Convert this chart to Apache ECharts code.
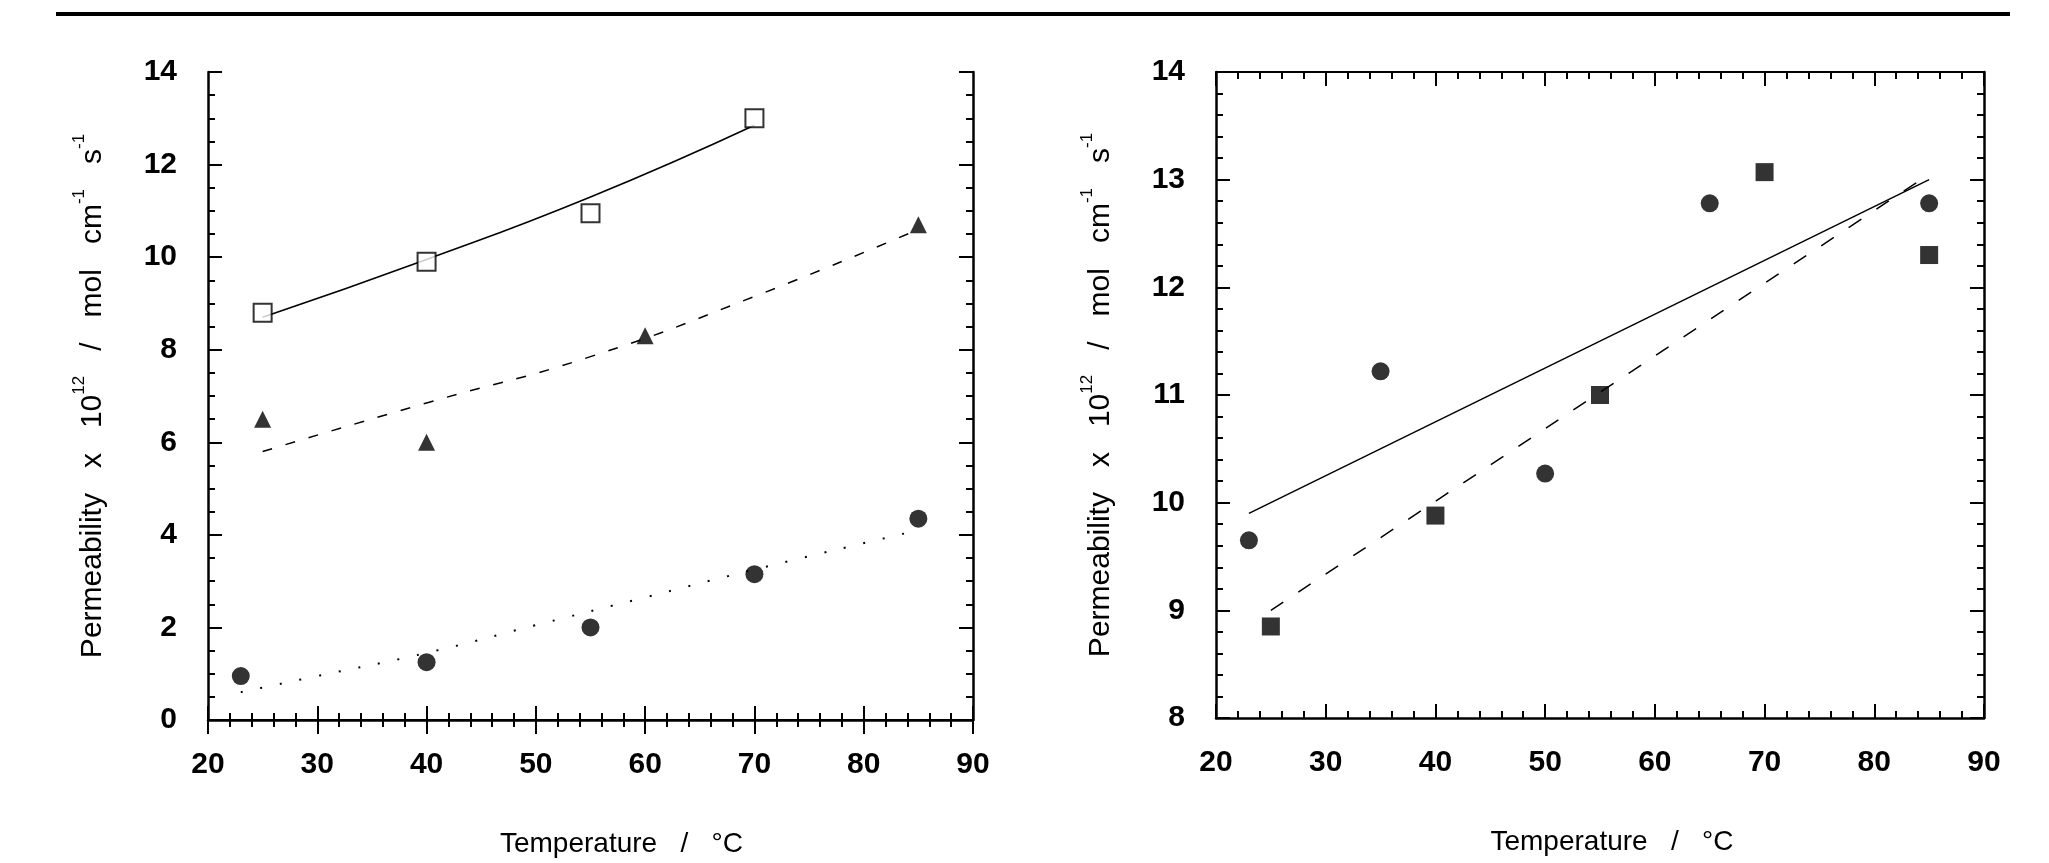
<!DOCTYPE html>
<html>
<head>
<meta charset="utf-8">
<script src="https://cdn.jsdelivr.net/npm/echarts@6/dist/echarts.min.js"></script>
<style>
  html, body { margin: 0; padding: 0; background: #fff; }
  #main { width: 2049px; height: 863px; }
</style>
</head>
<body>
<div id="main"></div>
<script>
// left panel: measured points
var leftSquareT = [25, 40, 55, 70];
var leftSquareP = [8.8, 9.9, 10.95, 13.0];
var leftTriT = [25, 40, 60, 85];
var leftTriP = [6.5, 6.0, 8.3, 10.7];
var leftCircT = [23, 40, 55, 70, 85];
var leftCircP = [0.95, 1.25, 2.0, 3.15, 4.35];
// left panel: fitted curves
var leftSquareFitT = [25, 40, 55, 70];
var leftSquareFitP = [8.7, 9.95, 11.3, 12.85];
var leftTriFitT = [25, 40, 55, 70, 85];
var leftTriFitP = [5.8, 6.85, 7.85, 9.15, 10.6];
var leftCircFitT = [23, 30, 40, 50, 60, 70, 85];
var leftCircFitP = [0.6, 0.95, 1.45, 2.05, 2.65, 3.25, 4.1];

// right panel
var rightCircT = [23, 35, 50, 65, 85];
var rightCircP = [9.65, 11.22, 10.27, 12.78, 12.78];
var rightSqT = [25, 40, 55, 70, 85];
var rightSqP = [8.85, 9.88, 11.0, 13.07, 12.3];
var rightCircFitT = [23, 85];
var rightCircFitP = [9.9, 13.0];
var rightSqFitT = [25, 85];
var rightSqFitP = [9.0, 13.05];

var yName = 'Permeability   x   10{sup|12}   /   mol   cm{sup|-1}   s{sup|-1}';
var xName = 'Temperature   /   \u00B0C';

var FONT = 'Liberation Sans';

function pairs(xs, ys) {
    return xs.map(function (x, i) { return [x, ys[i]]; });
}

var chartDom = document.getElementById('main');
var myChart = echarts.init(chartDom, null, { renderer: 'canvas' });

function xAxisPair(gridIndex, titleShift) {
    return [
        {
            type: 'value', gridIndex: gridIndex, position: 'bottom',
            min: 20, max: 90, interval: 10,
            name: xName, nameLocation: 'middle', nameGap: 110,
            nameTextStyle: { fontFamily: FONT, fontSize: 28, color: '#000', padding: [0, 0, 0, titleShift] },
            axisLine: { lineStyle: { color: '#000', width: 2.5 } },
            axisTick: { inside: true, length: 14, lineStyle: { color: '#000', width: 2 } },
            minorTick: { show: true, splitNumber: 5, length: 7, lineStyle: { color: '#000', width: 2 } },
            axisLabel: { margin: 30, fontFamily: FONT, fontSize: 30, fontWeight: 'bold', color: '#000' },
            splitLine: { show: false }
        },
        {
            type: 'value', gridIndex: gridIndex, position: 'top',
            min: 20, max: 90, interval: 10,
            axisLine: { lineStyle: { color: '#000', width: 2 } },
            axisTick: { inside: true, length: 14, lineStyle: { color: '#000', width: 2 } },
            minorTick: { show: true, splitNumber: 5, length: 7, lineStyle: { color: '#000', width: 2 } },
            axisLabel: { show: false },
            splitLine: { show: false }
        }
    ];
}

function yAxisPair(gridIndex, min, max, interval, minorSplit) {
    return [
        {
            type: 'value', gridIndex: gridIndex, position: 'left',
            min: min, max: max, interval: interval,
            name: yName, nameLocation: 'middle', nameGap: 93, nameRotate: 90,
            nameTextStyle: {
                fontFamily: FONT, fontSize: 30, color: '#000', lineHeight: 44,
                rich: { sup: { fontFamily: FONT, fontSize: 17, color: '#000', verticalAlign: 'top' } }
            },
            axisLine: { lineStyle: { color: '#000', width: 2.5 } },
            axisTick: { inside: true, length: 14, lineStyle: { color: '#000', width: 2 } },
            minorTick: { show: true, splitNumber: minorSplit, length: 7, lineStyle: { color: '#000', width: 2 } },
            axisLabel: { margin: 31, fontFamily: FONT, fontSize: 30, fontWeight: 'bold', color: '#000' },
            splitLine: { show: false }
        },
        {
            type: 'value', gridIndex: gridIndex, position: 'right',
            min: min, max: max, interval: interval,
            axisLine: { lineStyle: { color: '#000', width: 2.5 } },
            axisTick: { inside: true, length: 14, lineStyle: { color: '#000', width: 2 } },
            minorTick: { show: true, splitNumber: minorSplit, length: 7, lineStyle: { color: '#000', width: 2 } },
            axisLabel: { show: false },
            splitLine: { show: false }
        }
    ];
}

function fitLine(xi, yi, xs, ys, type, width) {
    return {
        type: 'line', xAxisIndex: xi, yAxisIndex: yi,
        data: pairs(xs, ys), smooth: true, symbol: 'none', silent: true,
        lineStyle: { color: '#000', width: width, type: type }, z: 2
    };
}

function points(xi, yi, xs, ys, symbol, size, filled) {
    return {
        type: 'scatter', xAxisIndex: xi, yAxisIndex: yi,
        data: pairs(xs, ys), symbol: symbol, symbolSize: size,
        itemStyle: filled ? { color: '#000' } : { color: '#fff', borderColor: '#000', borderWidth: 2 },
        z: 3
    };
}

var xAxes = xAxisPair(0, 62).concat(xAxisPair(1, 24));
var yAxes = yAxisPair(0, 0, 14, 2, 4).concat(yAxisPair(1, 8, 14, 1, 5));

option = {
    backgroundColor: '#fff',
    animation: false,
    grid: [
        { left: 208, top: 72, width: 765, height: 650 },
        { left: 1216, top: 72, width: 768, height: 646 }
    ],
    xAxis: xAxes,
    yAxis: yAxes,
    graphic: [
        {
            type: 'line', shape: { x1: 56, y1: 14, x2: 2010, y2: 14 },
            style: { stroke: '#000', lineWidth: 4 }
        }
    ],
    series: [
        fitLine(0, 0, leftSquareFitT, leftSquareFitP, 'solid', 1.5),
        fitLine(0, 0, leftTriFitT, leftTriFitP, [10, 14], 1.5),
        fitLine(0, 0, leftCircFitT, leftCircFitP, [2, 18], 2),
        points(0, 0, leftSquareT, leftSquareP, 'rect', 18, false),
        points(0, 0, leftTriT, leftTriP, 'triangle', 17, true),
        points(0, 0, leftCircT, leftCircP, 'circle', 18, true),

        fitLine(2, 2, rightCircFitT, rightCircFitP, 'solid', 1.5),
        fitLine(2, 2, rightSqFitT, rightSqFitP, [15, 18], 1.5),
        points(2, 2, rightCircT, rightCircP, 'circle', 18, true),
        points(2, 2, rightSqT, rightSqP, 'rect', 18, true)
    ]
};

option && myChart.setOption(option);
</script>
</body>
</html>
